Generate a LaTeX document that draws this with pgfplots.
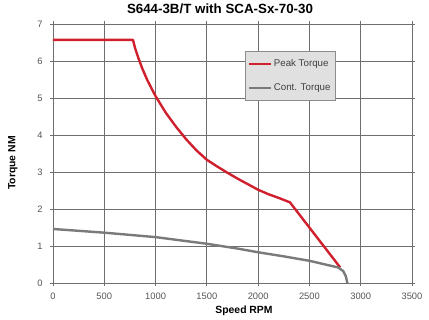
\documentclass[border=0pt]{standalone}
\usepackage{fontspec}
\setmainfont{Liberation Sans}
\usepackage{pgfplots}
\pgfplotsset{compat=1.18}
\definecolor{peakred}{HTML}{D0202E}
\definecolor{contgray}{HTML}{7A7A7A}
\definecolor{gridgray}{HTML}{6E6E6E}
\definecolor{ticklab}{HTML}{555555}
\begin{document}
\begin{tikzpicture}
\path[use as bounding box] (-39.75pt,-27.75pt) rectangle (282pt,212.25pt);
\begin{axis}[
  at={(0,0)}, anchor=south west,
  scale only axis, width=269.25pt, height=194.25pt,
  xmin=0, xmax=3500, ymin=0, ymax=7,
  xtick={0,500,...,3500}, ytick={0,1,...,7},
  grid=major,
  major grid style={draw=gridgray, line width=0.6pt},
  axis line style={draw=gridgray, line width=0.7pt},
  tick align=center, major tick length=4.5pt,
  tick style={draw=gridgray, line width=0.6pt},
  /pgf/number format/assume math mode=true,
  /pgf/number format/1000 sep={},
  tick label style={font=\fontsize{7}{8}\selectfont, text=ticklab},
  xticklabel style={yshift=-2pt},
  yticklabel style={xshift=-2pt},
  legend style={at={(rel axis cs:0.535,0.896)}, anchor=north west,
    fill=black!12, draw=black!45, line width=0.6pt,
    font=\fontsize{7.3}{8.5}\selectfont, text=black!75, row sep=7.5pt,
    inner xsep=2pt, inner ysep=4pt,
    nodes={inner xsep=1.5pt, inner ysep=2pt}},
  legend cell align=left,
  legend image code/.code={\draw[#1] (0pt,0pt) -- (16pt,0pt);},
]
\addplot[peakred, line width=1.8pt, line join=round] coordinates {
(0,6.57)(780,6.57)(800,6.35)(830,6.1)(870,5.8)(920,5.48)(1000,5.05)(1100,4.6)(1200,4.22)(1300,3.88)(1400,3.58)(1500,3.33)(1600,3.15)(1700,2.98)(1800,2.82)(1900,2.67)(2000,2.52)(2100,2.4)(2200,2.3)(2310,2.18)(2800,0.42)
};
\addlegendentry{Peak Torque}
\addplot[contgray, line width=1.8pt, line join=round] coordinates {
(0,1.46)(500,1.36)(1000,1.24)(1500,1.06)(1800,0.93)(2000,0.83)(2250,0.72)(2500,0.6)(2780,0.42)(2830,0.32)(2855,0.18)(2870,0.0)
};
\addlegendentry{Cont. Torque}
\end{axis}
\node[font=\fontsize{10}{12}\selectfont\bfseries] at (125.25pt,205.5pt) {S644-3B/T with SCA-Sx-70-30};
\node[font=\fontsize{7.8}{9}\selectfont\bfseries] at (143.25pt,-21pt) {Speed RPM};
\node[font=\fontsize{7.8}{9}\selectfont\bfseries, rotate=90] at (-30pt,90pt) {Torque NM};
\end{tikzpicture}
\end{document}
